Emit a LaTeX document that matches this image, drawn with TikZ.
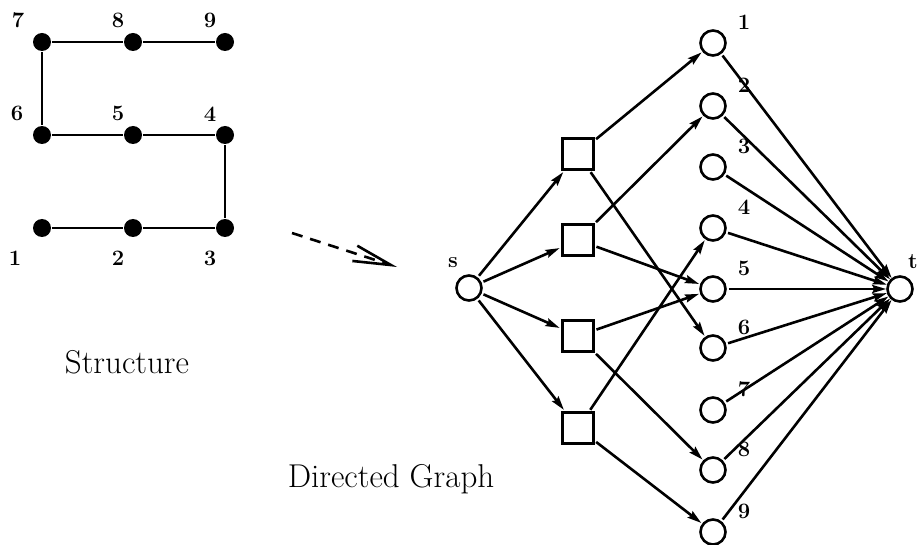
\documentclass[tikz,border=0pt]{standalone}
\usetikzlibrary{arrows.meta}
\begin{document}
\begin{tikzpicture}[x=1pt,y=-1pt,line width=2.6pt,>={Stealth[length=14pt,width=8pt,inset=2pt]},
 dot/.style={circle,fill,inner sep=0pt,minimum size=18pt},
 vert/.style={circle,draw,inner sep=0pt,minimum size=25pt},
 box/.style={draw,inner sep=0pt,minimum size=30.5pt},
 lbl/.style={font=\fontsize{22}{26}\selectfont\bfseries,inner sep=0pt},
 caption/.style={font=\fontsize{33}{40}\selectfont,anchor=base}]
 \useasboundingbox (0,0) rectangle (920,545);
 \clip (0,0) rectangle (920,545);
 \foreach \n/\x/\y in {1/42/228,2/133/228,3/225/228,4/225/135,5/133/135,6/42/135,7/42/42,8/133/42,9/225/42}{
  \node[dot] (p\n) at (\x,\y) {};}
 \foreach \n/\x/\y in {1/15/258,2/118/258,3/210/258,4/210/114,5/118/113,6/17/113,7/18/20,8/118/20,9/210/20}{
  \node[lbl] (q\n) at (\x,\y) {\n};}
 \draw (p1)--(p2)--(p3)--(p4)--(p5)--(p6)--(p7)--(p8)--(p9);
 \node[caption] (struct) at (127,373) {Structure};
 \coordinate (from) at (292,233);
 \coordinate (to) at (397,267);
 \draw[dash pattern=on 11pt off 8pt,-{Straight Barb[length=38pt,width=16pt]}] (from)--(to);
 \node[vert] (s) at (469,288) {};
 \node[lbl] (sl) at (453,263) {s};
 \foreach \b/\y in {1/154,2/240,3/336,4/428}{
  \node[box] (b\b) at (578,\y) {};
  \draw[->,shorten <=2pt,shorten >=2pt] (s)--(b\b);}
 \node[vert] (t) at (900,289) {};
 \node[lbl] (tl) at (913,262) {t};
 \foreach \i/\y in {1/43,2/106,3/167,4/228,5/289,6/348,7/410,8/470,9/532}{
  \node[vert] (c\i) at (713,\y) {};
  \node[lbl] (l\i) at (744,\y-21) {\i};
  \draw[->,shorten <=2pt] (c\i)--(t);}
 \foreach \b/\i in {1/1,1/6,2/2,2/5,3/5,3/8,4/4,4/9}{
  \draw[->,shorten <=2pt,shorten >=1pt] (b\b)--(c\i);}
 \node[caption] (dg) at (391,487) {Directed Graph};
\end{tikzpicture}
\end{document}
